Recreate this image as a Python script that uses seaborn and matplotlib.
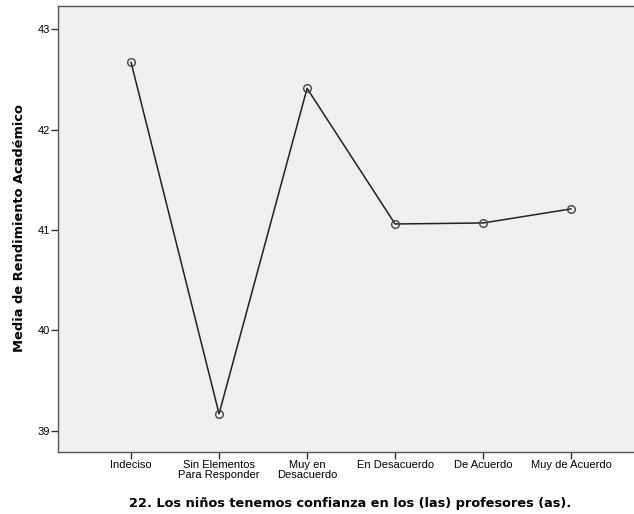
import matplotlib
matplotlib.use("Agg")
import matplotlib.pyplot as plt
import seaborn as sns
import pandas as pd

categories = ["Indeciso", "Sin Elementos\nPara Responder", "Muy en\nDesacuerdo",
              "En Desacuerdo", "De Acuerdo", "Muy de Acuerdo"]
means = [42.67, 39.17, 42.41, 41.06, 41.07, 41.21]
yticks = [39, 40, 41, 42, 43]

sns.set_theme(style="white")
plt.rcParams['font.family'] = ['Liberation Sans', 'DejaVu Sans']
plt.rcParams['text.color'] = 'black'
plt.rcParams['xtick.color'] = 'black'
plt.rcParams['ytick.color'] = 'black'

df = pd.DataFrame({"cat": categories, "mean": means, "pos": range(len(categories))})

fig = plt.figure(figsize=(6.34, 5.14), dpi=100)
ax = fig.add_axes([58/634, 62/514, 580/634, 446/514])
ax.set_facecolor("#F0F0F0")

sns.lineplot(data=df, x="pos", y="mean", ax=ax, color="#222222", linewidth=1.1,
             marker="o", markersize=5.5, markerfacecolor="none",
             markeredgecolor="#444444", markeredgewidth=1.0, sort=False)

ax.set_xlim(-0.83, 5.76)
ax.set_ylim(38.79, 43.23)
ax.set_xticks(range(len(categories)))
ax.set_xticklabels(categories, fontsize=8, linespacing=0.95)
ax.set_yticks(yticks)
ax.set_yticklabels([str(t) for t in yticks], fontsize=8)
ax.tick_params(axis="both", direction="out", length=5, width=1, color="#333333",
               pad=1, bottom=True, left=True)
for s in ax.spines.values():
    s.set_color("#555555")
    s.set_linewidth(1)
ax.spines["right"].set_visible(False)
ax.set_xlabel("")
ax.set_ylabel("")
fig.text(20/634, 1 - 228/514, "Media de Rendimiento Académico", rotation=90,
         fontsize=9.4, fontweight="bold", family="DejaVu Sans", ha="center", va="center")
fig.text(350/634, 1 - 503/514, "22. Los niños tenemos confianza en los (las) profesores (as).",
         fontsize=9.3, fontweight="bold", family="DejaVu Sans", ha="center", va="center")

fig.savefig("out.png", dpi=100, facecolor="white")
